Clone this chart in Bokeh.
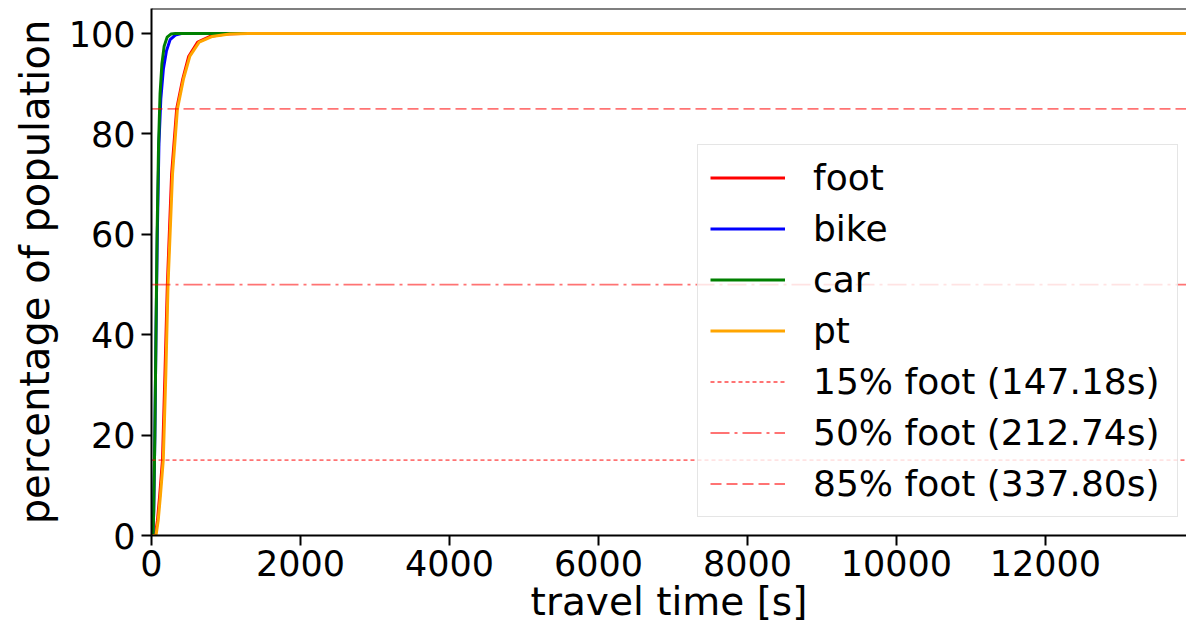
from bokeh.plotting import figure
from bokeh.models import Range1d, Span, Legend, LegendItem, FixedTicker
from bokeh.embed import file_html
from bokeh.resources import INLINE

# ---- data ----
foot_t = [0, 50, 80, 110, 147.18, 180, 212.74, 270, 337.80, 420, 500, 620, 780, 1000, 1200, 14000]
foot_p = [0, 0, 3, 8, 15, 32, 50, 72, 85, 91, 95.5, 98.3, 99.4, 99.9, 100, 100]

pt_t = [0, 60, 90, 120, 158, 192, 222, 282, 348, 430, 515, 640, 810, 1050, 1300, 14000]
pt_p = [0, 0, 3, 8, 15, 32, 50, 72, 85, 91, 95.5, 98.3, 99.4, 99.9, 100, 100]

bike_t = [0, 20, 30, 45, 60, 78, 100, 125, 160, 200, 250, 320, 400, 14000]
bike_p = [0, 0, 5, 20, 40, 60, 78, 87, 93, 96.5, 98.8, 99.7, 100, 100]

car_t = [0, 20, 30, 45, 60, 75, 95, 115, 140, 170, 210, 260, 320, 14000]
car_p = [0, 0, 5, 20, 40, 60, 78, 88, 94, 97.5, 99.3, 99.9, 100, 100]

modes = ["foot", "bike", "car", "pt"]
mode_colors = ["red", "blue", "green", "orange"]
mode_data = [(foot_t, foot_p), (bike_t, bike_p), (car_t, car_p), (pt_t, pt_p)]

quant_levels = [15, 50, 85]
quant_values = [147.18, 212.74, 337.80]
quant_dash = ["4 3", "19 5 3 5", "11 5"]

x_ticks = [0, 2000, 4000, 6000, 8000, 10000, 12000]
y_ticks = [0, 20, 40, 60, 80, 100]

X_MIN, X_MAX = 0, 13893
Y_MIN, Y_MAX = 0, 105

FONT = "DejaVu Sans"

p = figure(width=1186, height=631, output_backend="svg", toolbar_location=None,
           x_range=Range1d(X_MIN, X_MAX), y_range=Range1d(Y_MIN, Y_MAX),
           min_border_left=151, min_border_right=0, min_border_top=8, min_border_bottom=96)
p.outline_line_color = None
p.grid.visible = False
p.background_fill_color = "white"
p.border_fill_color = "white"

renderers = []
for name, col, (t, v) in zip(modes, mode_colors, mode_data):
    r = p.line(t, v, line_color=col, line_width=3)
    renderers.append((name, r))

for lvl, val, dash in zip(quant_levels, quant_values, quant_dash):
    r = p.line(x=[X_MIN, X_MAX], y=[lvl, lvl], line_color="red", line_alpha=0.55,
               line_width=1.8, line_dash=dash)
    renderers.append((f"{lvl}% foot ({val:.2f}s)", r))

# top spine
p.add_layout(Span(location=Y_MAX, dimension="width", line_color="black", line_width=2))

for ax in (p.xaxis[0], p.yaxis[0]):
    ax.axis_line_width = 2
    ax.axis_line_color = "black"
    ax.major_tick_line_width = 2
    ax.major_tick_out = 10
    ax.major_tick_in = 0
    ax.minor_tick_line_color = None
    ax.major_label_text_font = FONT
    ax.major_label_text_font_size = "35px"
    ax.major_label_text_color = "black"
    ax.axis_label_text_font = FONT
    ax.axis_label_text_font_style = "normal"
    ax.axis_label_text_color = "black"

p.xaxis.axis_label_text_font_size = "39px"
p.yaxis.axis_label_text_font_size = "40px"
p.xaxis.ticker = FixedTicker(ticks=x_ticks)
p.yaxis.ticker = FixedTicker(ticks=y_ticks)
p.xaxis.axis_label = "travel time [s]"
p.yaxis.axis_label = "percentage of population"
p.xaxis.major_label_standoff = 4
p.xaxis.axis_label_standoff = 0
p.yaxis.major_label_standoff = 6
p.yaxis.axis_label_standoff = 8

legend = Legend(items=[LegendItem(label=n, renderers=[r]) for n, r in renderers],
                location=(546, 18))
legend.label_text_font = FONT
legend.label_text_font_size = "36px"
legend.label_text_color = "black"
legend.glyph_width = 75
legend.glyph_height = 41
legend.label_height = 41
legend.label_width = 352
legend.label_standoff = 28
legend.spacing = 10
legend.padding = 12
legend.margin = 0
legend.border_line_color = "#cccccc"
legend.border_line_width = 1.5
legend.background_fill_color = "white"
legend.background_fill_alpha = 0.8
p.add_layout(legend)

open("out.html", "w").write(file_html(p, INLINE))
